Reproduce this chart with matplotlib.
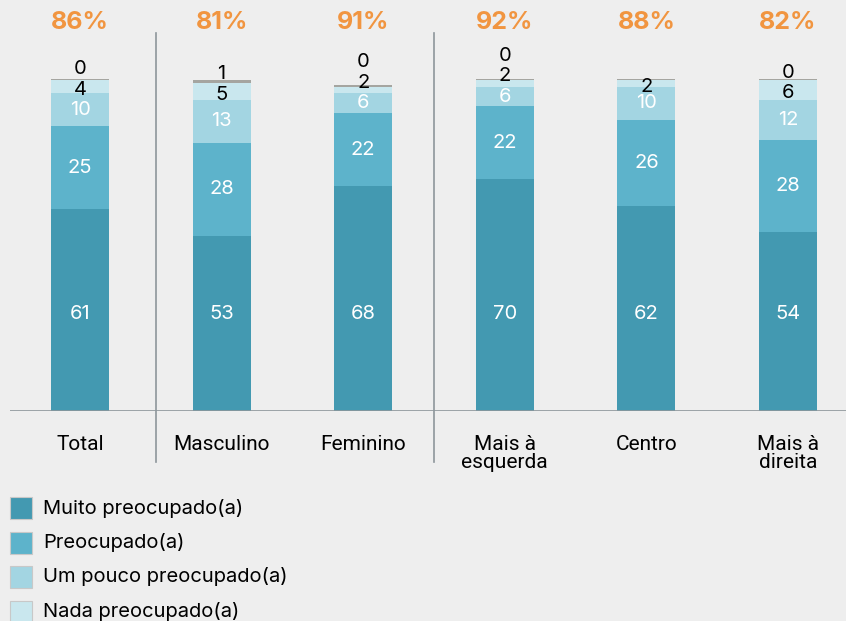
import matplotlib
matplotlib.use("Agg")
import matplotlib.pyplot as plt
import numpy as np
from matplotlib.patches import Rectangle

plt.rcParams["font.family"] = ["Inter", "DejaVu Sans"]

BG = "#eeeeee"
C_MUITO, C_PREOC, C_POUCO, C_NADA, C_NS = "#4399b1", "#5db3cb", "#a3d5e2", "#c9e7ee", "#a5a5a0"
ORANGE = "#f19540"
SEP = "#8d969b"

categories = ["Total", "Masculino", "Feminino", "Mais à\nesquerda", "Centro", "Mais à\ndireita"]
muito = [61, 53, 68, 70, 62, 54]
preocupado = [25, 28, 22, 22, 26, 28]
um_pouco = [10, 13, 6, 6, 10, 12]
nada = [4, 5, 2, 2, 2, 6]
nao_sabe = [0.4, 1.0, 0.4, 0.4, 0.4, 0.4]
nao_sabe_labels = ["0", "1", "0", "0", "", "0"]
totals = ["86%", "81%", "91%", "92%", "88%", "82%"]
separators = [0.54, 2.5]

legend_names = ["Muito preocupado(a)", "Preocupado(a)", "Um pouco preocupado(a)", "Nada preocupado(a)"]
legend_colors = [C_MUITO, C_PREOC, C_POUCO, C_NADA]

W, H = 846, 621
fig = plt.figure(figsize=(W / 100, H / 100), dpi=100, facecolor=BG)
PX = 3.31                      # pixels per percentage point
base_px = 411
ax = fig.add_axes([10 / W, 1 - base_px / H, 836 / W, base_px / H])
ax.set_facecolor(BG)
step = 141.6
ax.set_xlim(-(80 - 10) / step, (846 - 80) / step)
ax.set_ylim(0, base_px / PX)
ax.axis("off")

x = np.arange(len(categories))
w = 0.41
bottom = np.zeros(len(categories))
for vals, col in [(muito, C_MUITO), (preocupado, C_PREOC), (um_pouco, C_POUCO),
                  (nada, C_NADA), (nao_sabe, C_NS)]:
    ax.bar(x, vals, w, bottom=bottom, color=col, edgecolor="none")
    bottom = bottom + np.array(vals)

num_font = dict(fontsize=14.5, ha="center", va="center")
for i in range(len(categories)):
    # first segment labels sit on a common line
    ax.text(i, (base_px - 314) / PX, f"{muito[i]}", color="white", **num_font)
    b = muito[i]
    for v in (preocupado[i], um_pouco[i]):
        ax.text(i, b + v / 2, f"{v}", color="white", **num_font)
        b += v
    v = nada[i]
    ny = b + v / 2 - 1 if (v >= 4 or not nao_sabe_labels[i]) else b + v + 1.2
    ax.text(i, ny, f"{v}", color="black", **num_font)
    if nao_sabe_labels[i]:
        ax.text(i, ny + 6.2, nao_sabe_labels[i], color="black", **num_font)
    ax.text(i, (base_px - 22) / PX, totals[i], color=ORANGE, fontsize=18,
            fontweight="bold", ha="center", va="center")
    ax.text(i, -(435 - base_px) / PX, categories[i], fontsize=15, ha="center", va="top",
            linespacing=0.92, family=["Liberation Sans Narrow", "Roboto", "DejaVu Sans"])

ax.axhline(0, color=SEP, lw=1.2)
for s in separators:
    ax.plot([s, s], [-(462 - base_px) / PX, (base_px - 33) / PX], color=SEP, lw=1.2,
            clip_on=False)

# legend
for k, (name, col) in enumerate(zip(legend_names, legend_colors)):
    yc = 508 + k * 34.5
    fig.patches.append(Rectangle((10 / W, 1 - (yc + 11) / H), 22 / W, 22 / H,
                                 transform=fig.transFigure, facecolor=col,
                                 edgecolor="#c8c8c8", lw=0.8))
    fig.text(43 / W, 1 - yc / H, name, fontsize=14.5, va="center", ha="left")

fig.savefig("out.png", dpi=100, facecolor=BG)
